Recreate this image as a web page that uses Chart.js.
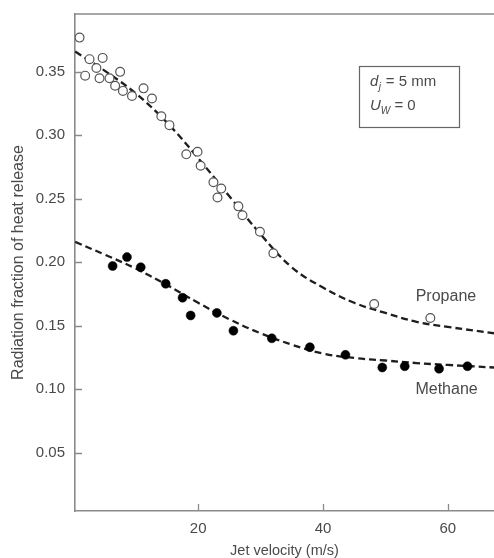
<!DOCTYPE html>
<html>
<head>
<meta charset="utf-8">
<title>Radiation fraction vs jet velocity</title>
<script src="https://cdn.jsdelivr.net/npm/chart.js@4.4.1/dist/chart.umd.min.js"></script>
<style>
  html, body { margin: 0; padding: 0; background: #fff; }
  canvas { display: block; }
</style>
</head>
<body>
<canvas id="grafico" width="494" height="558"></canvas>
<script>
// measured points (m/s, fraction)
const propaneX = [1.0, 1.9, 2.6, 3.7, 4.2, 4.7, 5.8, 6.7, 7.5, 7.95, 9.4, 11.25, 12.6, 14.1, 15.4, 18.1, 19.9, 20.4, 22.45, 23.1, 23.7, 26.45, 27.1, 29.9, 32.05, 48.2, 57.2];
const propaneY = [0.377, 0.347, 0.360, 0.353, 0.345, 0.361, 0.345, 0.339, 0.350, 0.335, 0.331, 0.337, 0.329, 0.315, 0.308, 0.285, 0.287, 0.276, 0.263, 0.251, 0.258, 0.244, 0.237, 0.224, 0.207, 0.167, 0.156];

const methaneX = [6.3, 8.6, 10.8, 14.8, 17.5, 18.8, 23.0, 25.65, 31.8, 37.9, 43.6, 49.5, 53.1, 58.6, 63.15];
const methaneY = [0.197, 0.204, 0.196, 0.183, 0.172, 0.158, 0.160, 0.146, 0.140, 0.133, 0.127, 0.117, 0.118, 0.116, 0.118];

// dashed fit curves
const fitX = [0.3, 5, 10, 15, 20, 25, 30, 35, 40, 45, 50, 55, 60, 67.4];
const propaneFit = [0.366, 0.351, 0.333, 0.310, 0.282, 0.252, 0.222, 0.196, 0.180, 0.168, 0.160, 0.153, 0.149, 0.144];
const methaneFit = [0.216, 0.206, 0.195, 0.182, 0.168, 0.155, 0.144, 0.135, 0.128, 0.1245, 0.1225, 0.1205, 0.119, 0.117];

const xTicks = [20, 40, 60];
const yTicks = [0.05, 0.10, 0.15, 0.20, 0.25, 0.30, 0.35];

const FONT = "'Liberation Sans', Arial, sans-serif";
const TXT = "#4a4a4a";
const AXIS = "#8a8a8a";

const pares = (xs, ys) => xs.map((x, i) => ({ x: x, y: ys[i] }));
const semPadding = s => { s.paddingLeft = 0; s.paddingRight = 0; s.paddingTop = 0; s.paddingBottom = 0; };

// inward tick marks + top frame line
const marcas = {
  id: "marcas",
  afterDraw(chart) {
    const { ctx, chartArea, scales } = chart;
    ctx.save();
    ctx.strokeStyle = AXIS;
    ctx.lineWidth = 1.3;
    ctx.beginPath();
    yTicks.forEach(v => {
      const y = Math.round(scales.y.getPixelForValue(v)) + 0.5;
      ctx.moveTo(chartArea.left, y);
      ctx.lineTo(chartArea.left + 7, y);
    });
    xTicks.forEach(v => {
      const x = Math.round(scales.x.getPixelForValue(v)) + 0.5;
      ctx.moveTo(x, chartArea.bottom);
      ctx.lineTo(x, chartArea.bottom - 7);
    });
    ctx.stroke();
    ctx.lineWidth = 1.6;
    ctx.beginPath();
    ctx.moveTo(chartArea.left - 0.8, chartArea.top);
    ctx.lineTo(chart.width, chartArea.top);
    ctx.stroke();
    ctx.restore();
  }
};

// series labels and parameter box
const anotacoes = {
  id: "anotacoes",
  afterDraw(chart) {
    const { ctx, scales } = chart;
    ctx.save();
    ctx.fillStyle = TXT;
    ctx.font = "16px " + FONT;
    ctx.textAlign = "center";
    ctx.textBaseline = "middle";
    ctx.fillText("Propane", scales.x.getPixelForValue(59.7), scales.y.getPixelForValue(0.1728));
    ctx.fillText("Methane", scales.x.getPixelForValue(59.8), scales.y.getPixelForValue(0.0997));

    // box
    ctx.strokeStyle = "#666";
    ctx.lineWidth = 1.2;
    ctx.strokeRect(359.5, 66.5, 100, 61);

    ctx.textAlign = "left";
    ctx.textBaseline = "alphabetic";
    let x = 370;
    ctx.font = "italic 15px " + FONT;
    ctx.fillText("d", x, 86);
    x += ctx.measureText("d").width;
    ctx.font = "italic 10px " + FONT;
    ctx.fillText("j", x + 0.5, 90);
    x += ctx.measureText("j").width + 1;
    ctx.font = "15px " + FONT;
    ctx.fillText(" = 5 mm", x, 86);

    x = 370;
    ctx.font = "italic 15px " + FONT;
    ctx.fillText("U", x, 110);
    x += ctx.measureText("U").width;
    ctx.font = "italic 10px " + FONT;
    ctx.fillText("W", x, 114);
    x += ctx.measureText("W").width;
    ctx.font = "15px " + FONT;
    ctx.fillText(" = 0", x, 110);
    ctx.restore();
  }
};

new Chart(document.getElementById("grafico"), {
  type: "scatter",
  data: {
    datasets: [
      {
        label: "Propane fit",
        data: pares(fitX, propaneFit),
        showLine: true,
        borderColor: "#1e1e1e",
        borderWidth: 2.3,
        borderDash: [7, 4],
        tension: 0.4,
        pointRadius: 0,
        order: 2
      },
      {
        label: "Methane fit",
        data: pares(fitX, methaneFit),
        showLine: true,
        borderColor: "#1e1e1e",
        borderWidth: 2.3,
        borderDash: [7, 4],
        tension: 0.4,
        pointRadius: 0,
        order: 2
      },
      {
        label: "Propane",
        data: pares(propaneX, propaneY),
        pointRadius: 4.4,
        pointBorderWidth: 1.2,
        pointBorderColor: "#555",
        pointBackgroundColor: "#fff",
        order: 1
      },
      {
        label: "Methane",
        data: pares(methaneX, methaneY),
        pointRadius: 4.5,
        pointBorderWidth: 0.5,
        pointBorderColor: "#000",
        pointBackgroundColor: "#000",
        order: 1
      }
    ]
  },
  options: {
    responsive: false,
    animation: false,
    layout: { autoPadding: false, padding: { top: 14, left: 0, right: 0, bottom: 0 } },
    plugins: {
      legend: { display: false },
      tooltip: { enabled: false }
    },
    scales: {
      x: {
        type: "linear",
        min: 0.27,
        max: 67.4,
        afterFit: s => { s.height = 47; semPadding(s); },
        afterBuildTicks: s => { s.ticks = xTicks.map(v => ({ value: v })); },
        grid: { display: false, drawTicks: false },
        border: { display: true, color: AXIS, width: 1.6 },
        ticks: { color: TXT, font: { family: FONT, size: 15 }, padding: 9, maxRotation: 0 },
        title: {
          display: true,
          text: "Jet velocity (m/s)",
          color: TXT,
          font: { family: FONT, size: 14.5, lineHeight: 1 },
          padding: { top: 0, bottom: 0 }
        }
      },
      y: {
        min: 0.0039,
        max: 0.3956,
        afterFit: s => { s.width = 75; semPadding(s); },
        afterBuildTicks: s => { s.ticks = yTicks.map(v => ({ value: v })); },
        grid: { display: false, drawTicks: false },
        border: { display: true, color: AXIS, width: 1.6 },
        ticks: {
          color: TXT,
          font: { family: FONT, size: 15 },
          padding: 10,
          callback: v => v.toFixed(2)
        },
        title: {
          display: true,
          text: "Radiation fraction of heat release",
          color: TXT,
          font: { family: FONT, size: 16, lineHeight: 1 },
          padding: { top: 11, bottom: 0 }
        }
      }
    }
  },
  plugins: [marcas, anotacoes]
});
</script>
</body>
</html>
